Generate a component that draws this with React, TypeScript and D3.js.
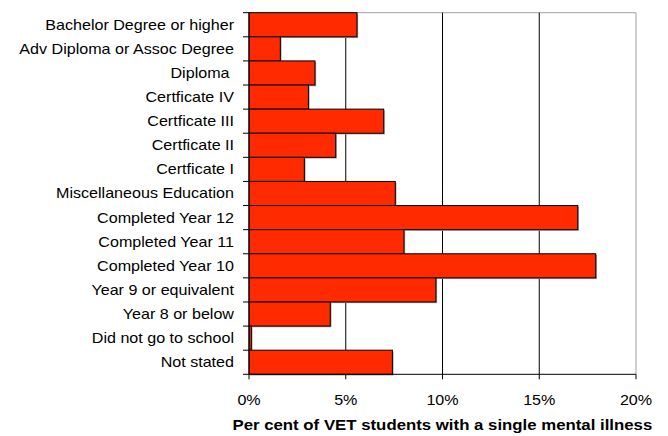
import React from "react";
import * as d3 from "d3";

const categories = [
  "Bachelor Degree or higher",
  "Adv Diploma or Assoc Degree",
  "Diploma ",
  "Certficate IV",
  "Certficate III",
  "Certficate II",
  "Certficate I",
  "Miscellaneous Education",
  "Completed Year 12",
  "Completed Year 11",
  "Completed Year 10",
  "Year 9 or equivalent",
  "Year 8 or below",
  "Did not go to school",
  "Not stated",
];
const values = [5.58, 1.62, 3.41, 3.07, 6.96, 4.48, 2.86, 7.56, 16.99, 8.01, 17.92, 9.66, 4.2, 0.12, 7.41];
const xTicks = [0, 5, 10, 15, 20];
const axisTitle = "Per cent of VET students with a single mental illness";

const W = 668;
const H = 436;
const left = 249;
const right = 636;
const top = 12.7;
const bottom = 374.3;
const SX = 1.15;

export default function App() {
  const x = d3.scaleLinear().domain([0, 20]).range([left, right]);
  const y = d3.scaleBand<string>().domain(categories).range([top, bottom]).paddingInner(0).paddingOuter(0);
  const bw = y.bandwidth();
  const font = "Arial, 'Liberation Sans', sans-serif";
  return (
    <svg width={W} height={H} style={{ position: "absolute", left: 0, top: 0 }} fontFamily={font}>
      <rect x={0} y={0} width={W} height={H} fill="#fff" />
      {/* plot border top & right */}
      <line x1={left} x2={right} y1={top} y2={top} stroke="#a0a0a0" strokeWidth={1} />
      <line x1={right} x2={right} y1={top} y2={bottom} stroke="#a0a0a0" strokeWidth={1} />
      {/* gridlines */}
      {xTicks.slice(1, -1).map((t) => (
        <line key={t} x1={x(t)} x2={x(t)} y1={top} y2={bottom} stroke="#000" strokeWidth={1} />
      ))}
      {/* bar shadows */}
      {categories.map((c, i) => (
        <rect key={"s" + c} x={left + 1.2} y={(y(c) as number) + 1.2} width={Math.max(0, x(values[i]) - left)} height={bw} fill="#a0a0a0" />
      ))}
      {/* bars */}
      {categories.map((c, i) => (
        <rect key={c} x={left} y={y(c) as number} width={x(values[i]) - left} height={bw} fill="#ff2a00" stroke="#000" strokeWidth={1} />
      ))}
      {/* left axis */}
      <line x1={left} x2={left} y1={top} y2={bottom} stroke="#000" strokeWidth={1} />
      {[...categories.map((c) => y(c) as number), bottom].map((yy, i) => (
        <line key={"lt" + i} x1={left - 6} x2={left} y1={yy} y2={yy} stroke="#000" strokeWidth={1} />
      ))}
      {categories.map((c) => (
        <text
          key={"l" + c}
          transform={`translate(234,${(y(c) as number) + bw / 2}) scale(${SX},1)`}
          dy="0.35em"
          textAnchor="end"
          fontSize={14}
          fill="#000"
          style={{ whiteSpace: "pre" }}
        >
          {c}
        </text>
      ))}
      {/* bottom axis */}
      <line x1={left} x2={right} y1={bottom} y2={bottom} stroke="#000" strokeWidth={1} />
      {xTicks.map((t) => (
        <g key={"xt" + t}>
          <line x1={x(t)} x2={x(t)} y1={bottom} y2={bottom + 5} stroke="#000" strokeWidth={1} />
          <text transform={`translate(${x(t)},405) scale(${SX},1)`} textAnchor="middle" fontSize={14} fill="#000">
            {t + "%"}
          </text>
        </g>
      ))}
      <text transform={`translate(${(231.7 + 653) / 2},430) scale(1.2,1)`} textAnchor="middle" fontSize={14} fontWeight="bold" fill="#000">
        {axisTitle}
      </text>
    </svg>
  );
}
